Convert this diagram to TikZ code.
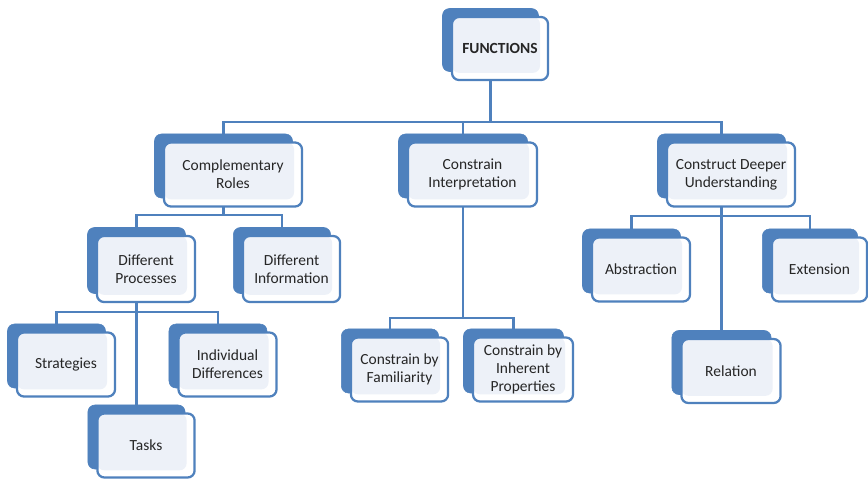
\documentclass[tikz,border=0pt]{standalone}
\usepackage{fontspec}
\setmainfont{Carlito}
\usetikzlibrary{backgrounds}
\definecolor{cardblue}{RGB}{79,129,189}
\definecolor{cardin}{RGB}{237,241,248}
\tikzset{
	cardback/.style={fill=cardblue, draw=cardblue, rounded corners=5pt, minimum height=1.6cm},
	card/.style={draw=cardblue, line width=1.6pt, fill=white, rounded corners=5pt, minimum height=1.6cm,
		align=center, text=black!85, font=\fontsize{11}{12.8}\selectfont,
		path picture={\fill[cardin] (path picture bounding box.north west) rectangle ([xshift=-0.2cm, yshift=0.18cm]path picture bounding box.south east);}},
	link/.style={draw=cardblue, line width=1.6pt}
}
\begin{document}
\begin{tikzpicture}[x=0.025cm, y=-0.025cm]
		\useasboundingbox (0,0) rectangle (868,480);
		% top
		\node [cardback, minimum width=2.4cm, minimum height=1.575cm] (fun-b) at (490.5, 40) {};
		\node [card, minimum width=2.4cm, minimum height=1.575cm] (fun) at (500, 48.5) {\textbf{FUNCTIONS}};
		% second row
		\node [cardback, minimum width=3.45cm] (comp-b) at (223.5, 166) {};
		\node [card, minimum width=3.45cm] (comp) at (233, 174.5) {Complementary\\Roles};
		\node [cardback, minimum width=3.225cm] (cint-b) at (463, 166) {};
		\node [card, minimum width=3.225cm] (cint) at (472.5, 174.5) {Constrain\\Interpretation};
		\node [cardback, minimum width=3.2cm] (cdu-b) at (721.5, 166) {};
		\node [card, minimum width=3.2cm] (cdu) at (731, 174.5) {Construct Deeper\\Understanding};
		% third row
		\node [cardback, minimum width=2.45cm, minimum height=1.65cm] (dp-b) at (136.5, 260.5) {};
		\node [card, minimum width=2.45cm, minimum height=1.65cm] (dp) at (146, 269) {Different\\Processes};
		\node [cardback, minimum width=2.43cm, minimum height=1.65cm] (di-b) at (282, 260.5) {};
		\node [card, minimum width=2.43cm, minimum height=1.65cm] (di) at (291.5, 269) {Different\\Information};
		\node [cardback, minimum width=2.45cm] (abs-b) at (631.5, 261) {};
		\node [card, minimum width=2.45cm] (abs) at (641, 269.5) {Abstraction};
		\node [cardback, minimum width=2.38cm] (ext-b) at (810, 261) {};
		\node [card, minimum width=2.38cm] (ext) at (819.5, 269.5) {Extension};
		% fourth row
		\node [cardback, minimum width=2.45cm] (strat-b) at (56.5, 356) {};
		\node [card, minimum width=2.45cm] (strat) at (66, 364.5) {Strategies};
		\node [cardback, minimum width=2.45cm] (indiv-b) at (218, 356) {};
		\node [card, minimum width=2.45cm] (indiv) at (227.5, 364.5) {Individual\\Differences};
		\node [cardback, minimum width=2.43cm] (fam-b) at (390, 361) {};
		\node [card, minimum width=2.43cm] (fam) at (399.5, 369.5) {Constrain by\\Familiarity};
		\node [cardback, minimum width=2.5cm] (inh-b) at (513.5, 361) {};
		\node [card, minimum width=2.5cm] (inh) at (523, 369.5) {Constrain by\\Inherent\\Properties};
		\node [cardback, minimum width=2.48cm] (rel-b) at (721.5, 362.5) {};
		\node [card, minimum width=2.48cm] (rel) at (731, 371) {Relation};
		% bottom
		\node [cardback, minimum width=2.43cm] (tasks-b) at (136.5, 437) {};
		\node [card, minimum width=2.43cm] (tasks) at (146, 445.5) {Tasks};
		% bus lines
		\coordinate (bus1) at (0, 122);
		\coordinate (bus2) at (0, 215);
		\coordinate (bus3) at (0, 312);
		\coordinate (bus4) at (0, 318);
		\coordinate (bus5) at (0, 216);
		\begin{scope}[on background layer]
			\draw [link] (fun-b.center) -- (fun-b.center |- bus1);
			\draw [link] (comp-b.north) |- (bus1 -| cdu-b.north) -- (cdu-b.north);
			\draw [link] (cint-b.north) -- (cint-b.north |- bus1);
			\draw [link] (comp-b.center) -- (comp-b.center |- bus2);
			\draw [link] (dp-b.north) |- (bus2 -| di-b.north) -- (di-b.north);
			\draw [link] (dp-b.center) -- (tasks-b.north);
			\draw [link] (strat-b.north) |- (bus3 -| indiv-b.north) -- (indiv-b.north);
			\draw [link] (cint-b.center) -- (cint-b.center |- bus4);
			\draw [link] (fam-b.north) |- (bus4 -| inh-b.north) -- (inh-b.north);
			\draw [link] (cdu-b.center) -- (rel-b.north);
			\draw [link] (abs-b.north) |- (bus5 -| ext-b.north) -- (ext-b.north);
		\end{scope}
\end{tikzpicture}
\end{document}
